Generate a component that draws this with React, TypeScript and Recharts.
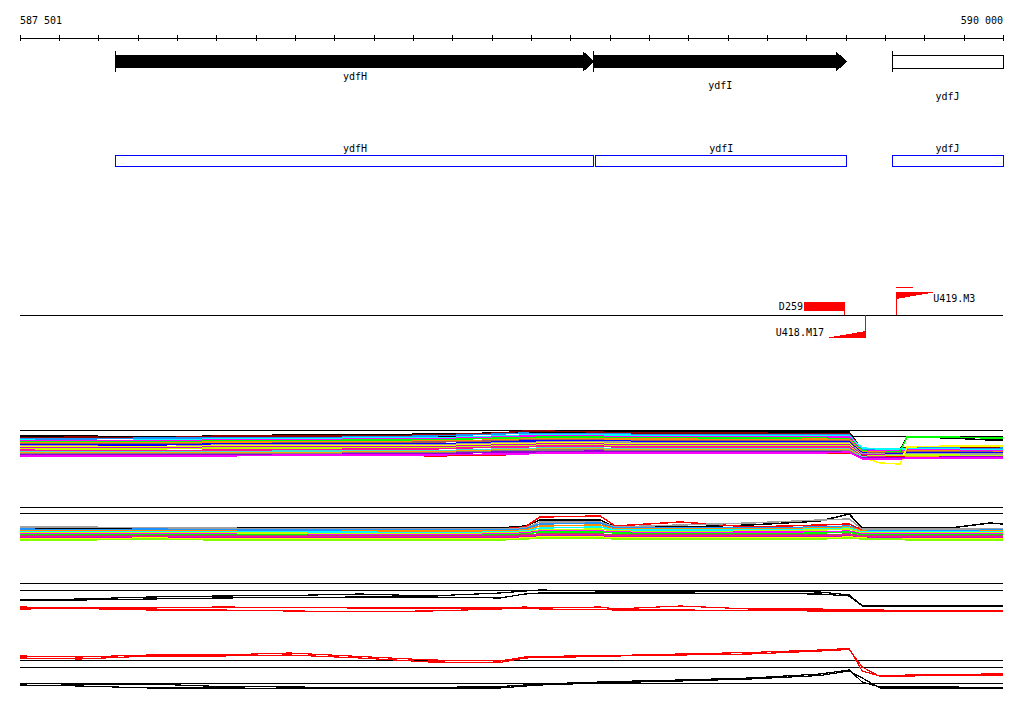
import React from "react";
import {
  ComposedChart,
  LineChart,
  Line,
  XAxis,
  YAxis,
  ReferenceArea,
  ReferenceLine,
} from "recharts";

const VIEW_START = 587501;
const VIEW_END = 590000;

const rulerTicks = [
  587501, 587601, 587701, 587801, 587901, 588001, 588101, 588201, 588301,
  588401, 588501, 588601, 588701, 588801, 588901, 589001, 589101, 589201,
  589301, 589401, 589501, 589601, 589701, 589801, 589901, 590000,
];

// genes (arrow track)
const geneNames = ["ydfH", "ydfI", "ydfJ"];
const geneStarts = [587745, 588960, 589718];
const geneEnds = [588960, 589603, 590000];
const geneComplete = [true, true, false];

// coding regions (blue boxes)
const cdsNames = ["ydfH", "ydfI", "ydfJ"];
const cdsStarts = [587745, 588965, 589718];
const cdsEnds = [588960, 589603, 590000];

// mapped probes / primers
const probeNames = ["D259", "U418.M17", "U419.M3"];
const probeStarts = [589494, 589550, 589728];
const probeEnds = [589598, 589651, 589830];
const probeKinds = ["block", "reverse", "forward"];
const tailStarts = [589728];
const tailEnds = [589771];

// tiling positions shared by the expression tracks
const probePositions = [
  587501, 587654, 587832, 588009, 588187, 588365, 588543, 588721, 588785,
  588823, 588976, 589014, 589179, 589357, 589535, 589609, 589642, 589687,
  589738, 589756, 589865, 589967, 590000,
];

const track1Colors = [
  "#000000", "#8b0000", "#1e90ff", "#00ffff", "#ff00ff", "#00ff00", "#ff8c00",
  "#a05a5a", "#0000ff", "#a0a0a0", "#ffff00", "#cc00cc", "#c0ff00", "#ff0000",
  "#ff1493", "#40e0d0", "#ffa500", "#808080", "#9400d3", "#ff00ff",
];
const track1 = [
  [33, 33, 32, 33, 34, 34, 35, 36, 37, 37, 37, 37, 37, 37, 37, 37, 19, 19, 19, 32, 31, 29, 29],
  [31, 32, 31, 33, 33, 33, 34, 36, 38, 38, 37, 36, 36, 36, 35, 35, 20, 20, 20, 22, 22, 22, 21],
  [30, 30, 31, 31, 31, 32, 33, 35, 36, 35, 35, 35, 34, 34, 34, 34, 20, 19, 19, 21, 21, 20, 21],
  [29, 28, 29, 30, 30, 31, 31, 33, 34, 34, 34, 34, 33, 33, 33, 33, 21, 20, 20, 20, 20, 19, 19],
  [28, 28, 28, 29, 29, 30, 30, 32, 33, 33, 33, 32, 32, 32, 32, 32, 18, 18, 18, 19, 19, 18, 18],
  [27, 27, 27, 28, 28, 29, 29, 31, 31, 32, 32, 31, 31, 31, 31, 30, 18, 17, 17, 32, 32, 31, 31],
  [26, 26, 26, 27, 27, 27, 28, 29, 30, 30, 30, 30, 30, 29, 30, 29, 17, 17, 16, 18, 18, 17, 17],
  [25, 25, 25, 25, 26, 26, 27, 28, 29, 29, 29, 28, 28, 28, 28, 28, 16, 16, 16, 17, 17, 17, 16],
  [24, 24, 24, 25, 25, 25, 25, 27, 28, 28, 28, 28, 27, 27, 27, 27, 16, 15, 15, 16, 16, 16, 16],
  [23, 23, 22, 24, 24, 24, 24, 26, 26, 27, 27, 27, 26, 26, 26, 26, 15, 15, 14, 15, 15, 15, 15],
  [22, 22, 22, 23, 23, 23, 23, 25, 25, 26, 26, 25, 25, 25, 25, 25, 12, 6, 5, 22, 23, 23, 23],
  [21, 21, 21, 22, 22, 22, 22, 24, 24, 25, 25, 24, 24, 24, 24, 24, 14, 14, 13, 14, 13, 13, 13],
  [20, 20, 20, 21, 21, 21, 21, 23, 23, 24, 24, 23, 23, 23, 23, 23, 13, 13, 13, 14, 14, 13, 13],
  [18, 17, 14, 14, 15, 16, 13, 14, 15, 16, 16, 17, 17, 16, 16, 16, 13, 12, 12, 12, 12, 12, 12],
  [19, 18, 18, 19, 19, 20, 20, 22, 22, 23, 23, 22, 22, 22, 22, 22, 12, 12, 11, 12, 12, 11, 11],
  [17, 17, 17, 17, 18, 18, 18, 20, 20, 21, 21, 20, 20, 20, 20, 20, 12, 11, 11, 11, 11, 11, 11],
  [16, 16, 16, 16, 16, 17, 17, 19, 19, 20, 20, 19, 19, 19, 19, 19, 11, 11, 11, 12, 12, 12, 12],
  [15, 15, 15, 15, 15, 16, 16, 18, 18, 19, 19, 18, 18, 18, 18, 18, 11, 11, 11, 11, 11, 11, 11],
  [14, 14, 14, 14, 14, 15, 15, 17, 17, 17, 18, 17, 17, 17, 17, 17, 11, 11, 11, 11, 12, 12, 12],
  [13, 13, 13, 13, 14, 14, 14, 15, 15, 16, 16, 16, 16, 16, 16, 17, 10, 10, 10, 11, 11, 11, 11],
];
const track1Refs = [38.7, 33];

const track2Colors = [
  "#000000", "#ff0000", "#a0a0a0", "#1e90ff", "#ff8c00", "#00ffff", "#c0ff00",
  "#ff00ff", "#00ff00", "#a05a5a", "#ff1493", "#cc00cc", "#ffff00", "#80ff00",
];
const track2 = [
  [16, 16, 16, 16, 16, 16, 16, 16, 18, 24, 24, 17, 17, 19, 23, 30, 16, 16, 16, 16, 16, 21, 20],
  [14, 14, 13, 14, 14, 14, 15, 15, 17, 27, 28, 18, 22, 17, 19, 20, 14, 14, 14, 14, 14, 14, 14],
  [17, 17, 16, 16, 15, 15, 15, 15, 16, 22, 22, 17, 19, 21, 24, 25, 15, 15, 15, 15, 15, 15, 15],
  [15, 14, 15, 14, 14, 14, 14, 14, 15, 20, 21, 16, 16, 16, 17, 18, 13, 13, 13, 13, 13, 14, 14],
  [13, 13, 13, 13, 12, 13, 13, 13, 14, 18, 19, 15, 15, 15, 16, 17, 13, 12, 12, 12, 12, 13, 13],
  [12, 12, 12, 12, 12, 12, 11, 12, 13, 16, 17, 14, 14, 14, 15, 16, 12, 12, 12, 12, 12, 12, 12],
  [11, 11, 11, 11, 11, 10, 10, 11, 12, 14, 15, 13, 12, 13, 14, 15, 11, 11, 11, 11, 11, 11, 11],
  [10, 10, 10, 10, 9, 9, 9, 10, 11, 13, 13, 12, 11, 12, 12, 13, 10, 10, 10, 10, 10, 10, 10],
  [9, 9, 9, 9, 9, 8, 8, 9, 10, 12, 12, 11, 10, 10, 11, 12, 9, 9, 9, 9, 9, 9, 9],
  [8, 8, 8, 8, 8, 8, 8, 8, 9, 10, 10, 9, 9, 9, 9, 10, 8, 8, 8, 8, 8, 8, 8],
  [7, 7, 7, 7, 7, 7, 7, 7, 8, 9, 9, 8, 8, 8, 8, 9, 7, 7, 7, 7, 7, 7, 7],
  [6, 6, 6, 6, 6, 6, 6, 6, 7, 8, 8, 7, 7, 7, 7, 8, 6, 6, 6, 6, 6, 6, 6],
  [5, 5, 6, 5, 5, 5, 5, 5, 6, 7, 7, 6, 6, 6, 6, 7, 6, 5, 5, 5, 5, 5, 5],
  [4, 4, 5, 4, 4, 4, 4, 4, 5, 6, 6, 5, 5, 5, 5, 6, 5, 5, 5, 4, 4, 4, 4],
];
const track2Refs = [36.7, 30.7];

const track3Colors = ["#000000", "#000000", "#ff0000", "#ff0000"];
const track3 = [
  [18, 19, 21, 22, 22.5, 24, 22, 25, 27, 28, 27, 27, 26.5, 27, 26, 23, 12.5, 12, 12, 12, 12, 12, 12],
  [17.5, 18, 19, 20, 20.5, 21, 21, 20, 24, 25, 25, 25, 25, 24.5, 24, 22, 12, 11.5, 11.5, 11.5, 11.5, 11.5, 11.5],
  [11, 10, 10, 11, 10.5, 10, 10, 10, 11, 10, 11, 9, 12, 9, 9, 8, 8, 8, 7.5, 7.5, 7.5, 7.5, 7.5],
  [9, 9.5, 8, 8, 7, 6.5, 7, 9, 10, 9, 8.5, 8, 8, 7.5, 7, 7, 7, 7, 7, 7, 7, 7, 7],
];
const track3Refs = [34.7, 27.7];

const track4Colors = ["#ff0000", "#ff0000", "#000000", "#000000"];
const track4 = [
  [40, 39, 41, 41, 43, 39.5, 36, 35, 39, 39.5, 40.5, 40.5, 42, 43.5, 46, 47.5, 25, 20, 20.5, 21, 21.5, 22, 22],
  [38, 37, 40, 40, 41, 38, 34, 33.5, 38, 38.5, 39.5, 40, 41, 42, 45, 46.5, 29, 19.5, 20, 20, 20.5, 20.5, 20.5],
  [12.3, 12, 12, 9.5, 9, 8.5, 8.5, 9.5, 11, 12, 14, 14.5, 16, 18, 22, 26, 14, 9, 9, 9, 9, 8.5, 8.5],
  [11, 10, 8, 8, 7.7, 8, 8, 8, 10, 11, 13, 13.5, 15, 17, 20.5, 25, 18, 8, 8, 8, 8, 8, 8],
];
const track4Refs = [36, 28.7, 12.7];

// layout (page rows, px)
const FONT = '"DejaVu Sans Mono", monospace';
const HEADER_H = 360;
const AXIS_H = 38;
const GENE_BAR = { top: 55, bottom: 68 };
const GENE_HEAD = { length: 11, flare: 4 };
const GENE_LABEL_DROP = [12, 21, 32];
const CDS_BOX = { top: 155, bottom: 166 };
const PROBE_BASE = 315;
const PROBE_ROWS: Record<string, [number, number]> = {
  block: [302, 311],
  reverse: [331, 338],
  forward: [292, 299],
};
const TAIL_ROW = 287;
const MARGIN = { top: 0, right: 21, bottom: 0, left: 20 };

const groupDigits = (v: number) =>
  String(v).replace(/\B(?=(\d{3})+(?!\d))/g, " ");

function RulerTick(props: any) {
  const { x, y, index, payload } = props;
  const last = rulerTicks.length - 1;
  return (
    <g>
      <line x1={x} x2={x} y1={y - 3} y2={y + 3} stroke="#000" />
      {(index === 0 || index === last) && (
        <text
          x={x}
          y={y - 14}
          textAnchor={index === 0 ? "start" : "end"}
          fontFamily={FONT}
          fontSize={10}
          fill="#000"
        >
          {groupDigits(payload.value)}
        </text>
      )}
    </g>
  );
}

function geneShape(i: number) {
  return (p: any) => {
    const { x, y, width: w, height: h } = p;
    const fl = GENE_HEAD.flare;
    const label = (
      <text
        x={x + w / 2}
        y={y + h + GENE_LABEL_DROP[i]}
        textAnchor="middle"
        fontFamily={FONT}
        fontSize={10}
        fill="#000"
      >
        {geneNames[i]}
      </text>
    );
    const tick = (
      <line x1={x} x2={x} y1={y - fl} y2={y + h + fl} stroke="#000" />
    );
    if (!geneComplete[i]) {
      return (
        <g>
          <rect x={x} y={y} width={w} height={h} fill="#fff" stroke="#000" />
          {tick}
          {label}
        </g>
      );
    }
    const hx = x + w - GENE_HEAD.length;
    const pts = [
      [x, y],
      [hx, y],
      [hx, y - fl],
      [x + w, y + h / 2],
      [hx, y + h + fl],
      [hx, y + h],
      [x, y + h],
    ]
      .map((q) => q.join(","))
      .join(" ");
    return (
      <g>
        <polygon points={pts} fill="#000" />
        {tick}
        {label}
      </g>
    );
  };
}

function cdsShape(i: number) {
  return (p: any) => {
    const { x, y, width: w, height: h } = p;
    return (
      <g>
        <rect x={x} y={y} width={w} height={h} fill="none" stroke="#0000ff" />
        <text
          x={x + w / 2}
          y={y - 3}
          textAnchor="middle"
          fontFamily={FONT}
          fontSize={10}
          fill="#000"
        >
          {cdsNames[i]}
        </text>
      </g>
    );
  };
}

function probeShape(i: number) {
  return (p: any) => {
    const { x, y, width: w, height: h } = p;
    const kind = probeKinds[i];
    const txt = { fontFamily: FONT, fontSize: 10, fill: "#000" };
    if (kind === "block") {
      return (
        <g>
          <rect x={x} y={y} width={w} height={h} fill="#ff0000" />
          <text x={x - 1} y={y + h - 1.5} textAnchor="end" {...txt}>
            {probeNames[i]}
          </text>
        </g>
      );
    }
    if (kind === "reverse") {
      return (
        <g>
          <polygon
            points={`${x},${y + h} ${x + w},${y + h} ${x + w},${y}`}
            fill="#ff0000"
          />
          <text x={x - 2} y={y + h - 2} textAnchor="end" {...txt}>
            {probeNames[i]}
          </text>
        </g>
      );
    }
    return (
      <g>
        <polygon
          points={`${x},${y} ${x + w},${y} ${x},${y + h}`}
          fill="#ff0000"
        />
        <text x={x + w - 3} y={y + h + 3} textAnchor="start" {...txt}>
          {probeNames[i]}
        </text>
      </g>
    );
  };
}

function Header() {
  const data = geneStarts.map((s) => ({ pos: s }));
  return (
    <ComposedChart width={1024} height={HEADER_H} data={data} margin={MARGIN}>
      <XAxis
        dataKey="pos"
        type="number"
        orientation="top"
        height={AXIS_H}
        domain={[VIEW_START, VIEW_END]}
        allowDataOverflow
        ticks={rulerTicks}
        interval={0}
        tickSize={0}
        tickMargin={0}
        tickLine={false}
        axisLine={{ stroke: "#000" }}
        tick={RulerTick}
      />
      <YAxis
        type="number"
        hide
        reversed
        domain={[AXIS_H, HEADER_H]}
        allowDataOverflow
      />
      {geneNames.map((g, i) => (
        <ReferenceArea
          key={"g" + g}
          x1={geneStarts[i]}
          x2={geneEnds[i]}
          y1={GENE_BAR.top}
          y2={GENE_BAR.bottom}
          shape={geneShape(i)}
        />
      ))}
      {cdsNames.map((g, i) => (
        <ReferenceArea
          key={"c" + g}
          x1={cdsStarts[i]}
          x2={cdsEnds[i]}
          y1={CDS_BOX.top}
          y2={CDS_BOX.bottom}
          shape={cdsShape(i)}
        />
      ))}
      <ReferenceLine y={PROBE_BASE} stroke="#000" />
      {probeNames.map((n, i) => {
        const kind = probeKinds[i];
        const row = PROBE_ROWS[kind];
        const stemX = kind === "forward" ? probeStarts[i] : probeEnds[i];
        const far = kind === "reverse" ? row[1] : row[0];
        return (
          <React.Fragment key={"p" + n}>
            <ReferenceLine
              segment={[
                { x: stemX, y: PROBE_BASE },
                { x: stemX, y: far },
              ]}
              stroke="#ff0000"
            />
            <ReferenceArea
              x1={probeStarts[i]}
              x2={probeEnds[i]}
              y1={row[0]}
              y2={row[1]}
              shape={probeShape(i)}
            />
          </React.Fragment>
        );
      })}
      {tailStarts.map((s, i) => (
        <ReferenceLine
          key={"t" + i}
          segment={[
            { x: s, y: TAIL_ROW },
            { x: tailEnds[i], y: TAIL_ROW },
          ]}
          stroke="#ff0000"
        />
      ))}
    </ComposedChart>
  );
}

function buildRows(series: number[][]) {
  return probePositions.map((pos, i) => {
    const row: Record<string, number> = { pos };
    series.forEach((s, k) => {
      row["s" + k] = s[i];
    });
    return row;
  });
}

function Track({
  top,
  height,
  series,
  colors,
  refs,
  lineWidth,
}: {
  top: number;
  height: number;
  series: number[][];
  colors: string[];
  refs: number[];
  lineWidth: number;
}) {
  const data = buildRows(series);
  return (
    <div style={{ position: "absolute", left: 0, top }}>
      <LineChart width={1024} height={height} data={data} margin={MARGIN}>
        <XAxis
          dataKey="pos"
          type="number"
          domain={[VIEW_START, VIEW_END]}
          allowDataOverflow
          hide
        />
        <YAxis type="number" domain={[0, height]} allowDataOverflow hide />
        {refs.map((r) => (
          <ReferenceLine key={r} y={r} stroke="#000" />
        ))}
        {series.map((_, k) => (
          <Line
            key={k}
            type="linear"
            dataKey={"s" + k}
            stroke={colors[k]}
            strokeWidth={lineWidth}
            dot={false}
            activeDot={false}
            isAnimationActive={false}
          />
        ))}
      </LineChart>
    </div>
  );
}

export default function App() {
  return (
    <div
      style={{
        position: "absolute",
        left: 0,
        top: 0,
        width: 1024,
        height: 714,
        background: "#fff",
        shapeRendering: "crispEdges",
      }}
    >
      <div style={{ position: "absolute", left: 0, top: 0 }}>
        <Header />
      </div>
      <Track top={425} height={44} series={track1} colors={track1Colors} refs={track1Refs} lineWidth={1.5} />
      <Track top={500} height={44} series={track2} colors={track2Colors} refs={track2Refs} lineWidth={1.5} />
      <Track top={578} height={40} series={track3} colors={track3Colors} refs={track3Refs} lineWidth={1.2} />
      <Track top={640} height={56} series={track4} colors={track4Colors} refs={track4Refs} lineWidth={1.2} />
    </div>
  );
}
